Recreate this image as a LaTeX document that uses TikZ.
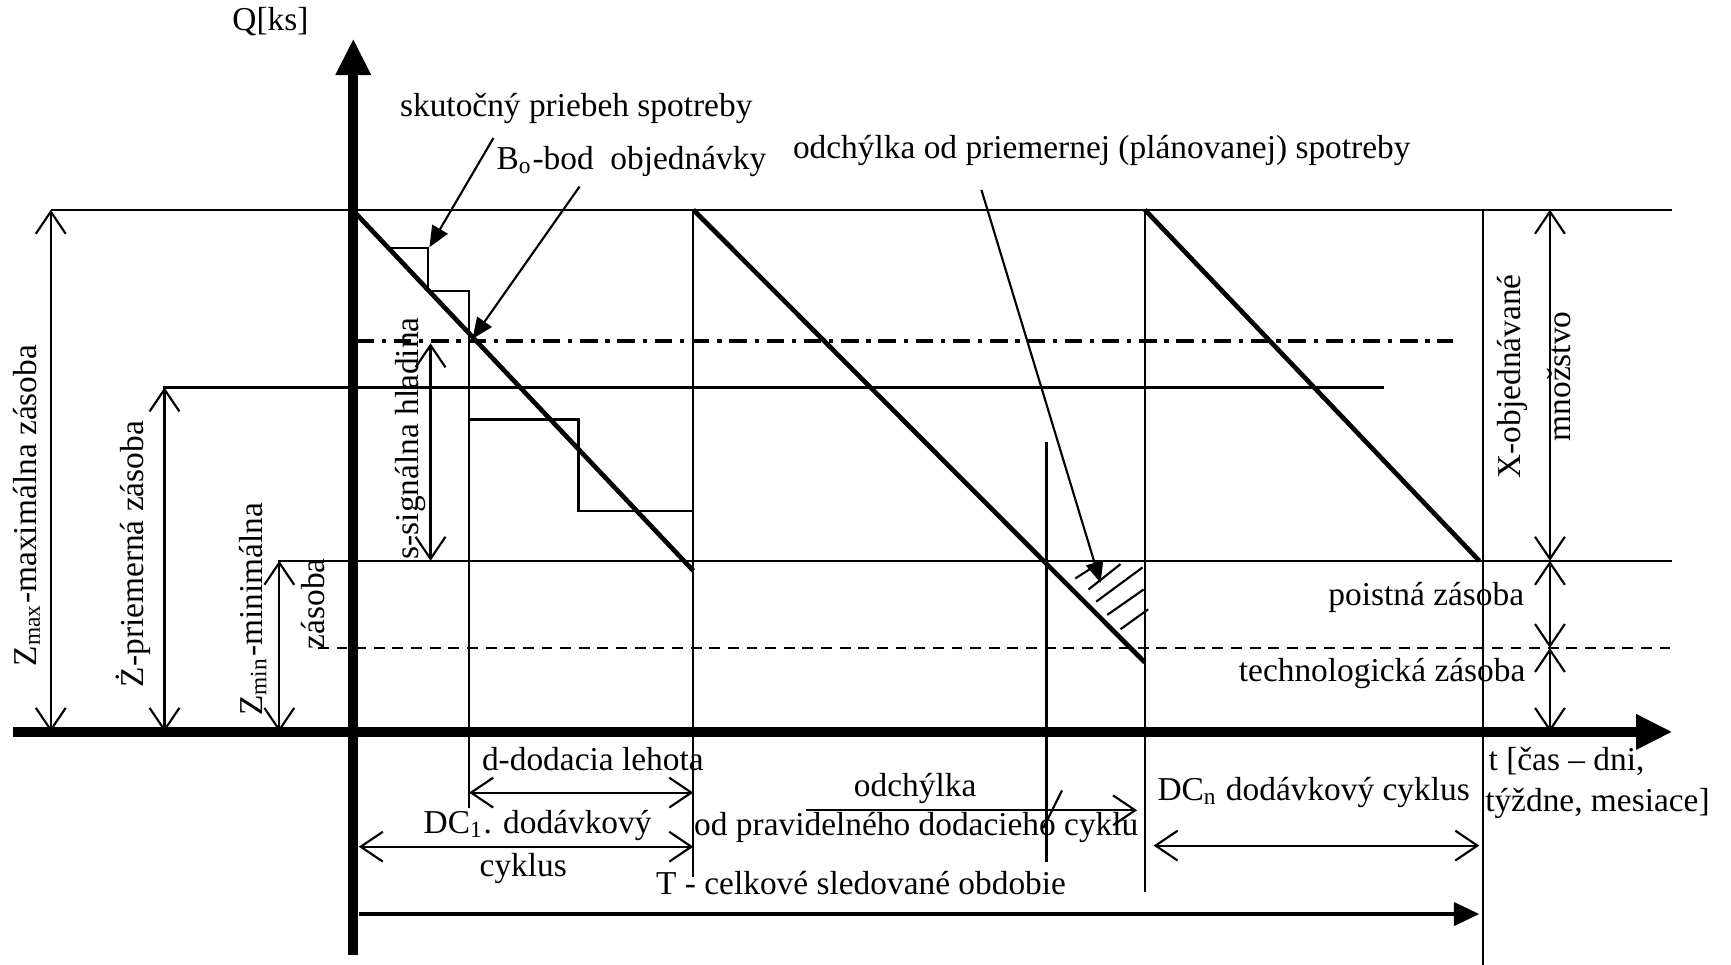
\documentclass[tikz,border=0pt]{standalone}
\usepackage{fontspec}
\setmainfont{Liberation Serif}
\usetikzlibrary{arrows.meta}
\begin{document}
\begin{tikzpicture}[x=0.01cm,y=-0.01cm,
  thinln/.style={line width=0.55pt},
  sawln/.style={line width=1.2pt},
  axisln/.style={line width=2.6pt, -{Triangle[length=3.3mm,width=3.0mm]}},
  dimln/.style={line width=0.55pt, {Straight Barb[length=2mm,width=2.7mm]}-{Straight Barb[length=2mm,width=2.7mm]}},
  dimrln/.style={line width=0.55pt, -{Straight Barb[length=2mm,width=2.7mm]}},
  callout/.style={line width=0.55pt, -{Triangle[length=1.9mm,width=1.6mm]}},
  tarrow/.style={line width=0.9pt, -{Triangle[length=2.3mm,width=2.1mm]}},
  lbl/.style={inner sep=0pt, font=\fontsize{8.6}{10}\selectfont},
]
\useasboundingbox (0,0) rectangle (1568,874);

% horizontal levels
\draw[thinln] (46,190) -- (1515,190);
\draw[line width=0.9pt, dash pattern=on 4.5pt off 2pt on 1.1pt off 2pt] (323,309) -- (1316,309);
\draw[thinln] (148,351) -- (1254,351);
\draw[thinln] (252,508) -- (1515,508);
\draw[line width=0.7pt, dash pattern=on 2.8pt off 2pt] (288,587) -- (1515,587);

% vertical lines
\draw[thinln] (628,190) -- (628,794);
\draw[thinln] (1037,190) -- (1037,808);
\draw[thinln] (1343,190) -- (1343,874);
\draw[thinln] (948,400) -- (948,781);

% step function (actual consumption)
\draw[thinln] (353,225) -- (388,225) -- (388,264) -- (425,264) -- (425,732);
\draw[thinln] (425,380) -- (524,380) -- (524,463) -- (628,463);

% sawtooth (planned consumption)
\draw[sawln] (322,193) -- (628,517);
\draw[sawln] (628,190) -- (1037,600);
\draw[sawln] (1037,190) -- (1340,508);

% hatching
\foreach \a/\b/\c/\d in {974/524/996/510, 986/534/1015/511, 993/545/1035/514, 1003/557/1036/534, 1015/570/1040/552}
  \draw[thinln] (\a,\b) -- (\c,\d);

% texts
\node[lbl] (q) at (245,20) {Q[ks]};
\node[lbl] (skut) at (522,98) {skutočný priebeh spotreby};
\node[lbl] (bod) at (572,146) {B\textsubscript{o}-bod\ \ objednávky};
\node[lbl] (odch) at (998,136) {odchýlka od priemernej (plánovanej) spotreby};
\node[lbl, rotate=90] (zmax) at (24,458) {Z\textsubscript{max}-maximálna zásoba};
\node[lbl, rotate=90] (zavg) at (121,502) {Ż-priemerná zásoba};
\node[lbl, rotate=90] (zmin) at (229,552) {Z\textsubscript{min}-minimálna};
\node[lbl, rotate=90] (zmin2) at (284,547) {zásoba};
\node[lbl, rotate=90] (sig) at (372,397) {s-signálna hladina};
\node[lbl, rotate=90] (xobj) at (1370,341) {X-objednávané};
\node[lbl, rotate=90] (mnoz) at (1412,341) {množstvo};
\node[lbl] (poist) at (1292,541) {poistná zásoba};
\node[lbl] (tech) at (1252,610) {technologická zásoba};
\node[lbl] (dd) at (537,688) {d-dodacia lehota};
\node[lbl] (dc1) at (487,748) {DC\textsubscript{1}. dodávkový};
\node[lbl] (cyk) at (474,787) {cyklus};
\node[lbl] (odch2) at (829,714) {odchýlka};
\node[lbl] (odpr) at (830,750) {od pravidelného dodacieho cyklu};
\node[lbl] (tcel) at (780,800) {T - celkové sledované obdobie};
\node[lbl] (dcn) at (1190,718) {DC\textsubscript{n} dodávkový cyklus};
\node[lbl] (tcas) at (1419,690) {t [čas – dni,};
\node[lbl] (tyz) at (1447,728) {týždne, mesiace]};

% callout arrows
\coordinate (c1s) at (447,125); \coordinate (c1e) at (389,224);
\coordinate (c2s) at (525,169); \coordinate (bo) at (428,307);
\coordinate (c3s) at (889,172); \coordinate (c3e) at (997,528);
\draw[callout] (c1s) -- (c1e);
\draw[callout] (c2s) -- (bo);
\draw[callout] (c3s) -- (c3e);

% dimension arrows
\draw[dimln] (46,190) -- (46,663);
\draw[dimln] (149,351) -- (149,663);
\draw[dimln] (253,508) -- (253,663);
\draw[dimln] (390,311) -- (390,508);
\draw[dimln] (1404,190) -- (1404,508);
\draw[dimln] (1404,508) -- (1404,587);
\draw[dimln] (1404,587) -- (1404,663);
\draw[dimln] (425,718) -- (628,718);
\draw[dimln] (325,767) -- (628,767);
\draw[dimrln] (730,734) -- (1030,734);
\draw[thinln] (945,750) -- (962,716);
\draw[dimln] (1045,766) -- (1340,766);
\draw[tarrow] (325,828) -- (1340,828);

% axes
\draw[axisln] (320,865) -- (320,35);
\draw[axisln] (12,663) -- (1515,663);
\end{tikzpicture}
\end{document}
